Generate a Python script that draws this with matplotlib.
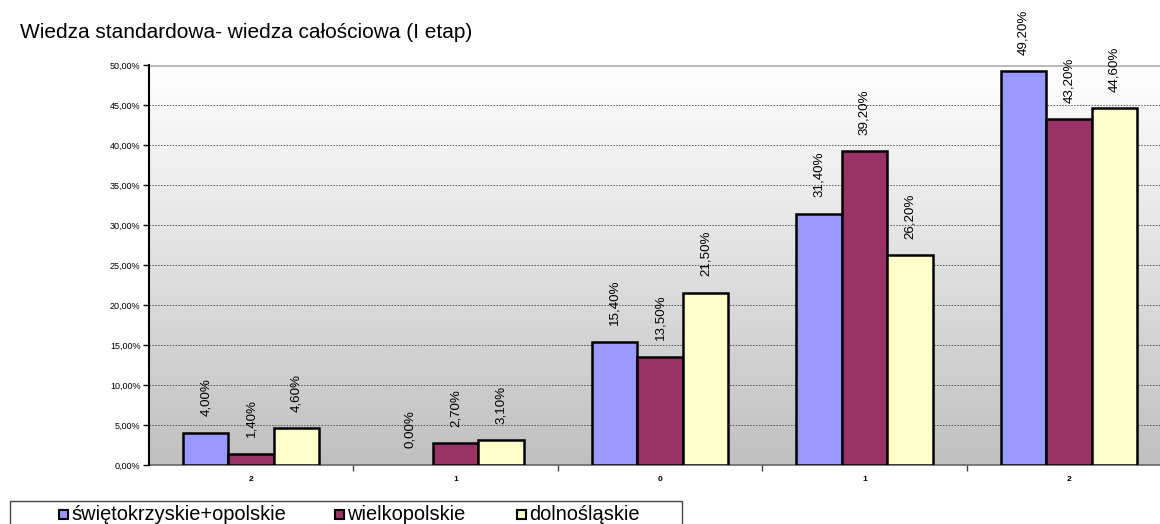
import numpy as np
import matplotlib
matplotlib.use("Agg")
import matplotlib.pyplot as plt
from matplotlib.patches import Rectangle
from matplotlib.ticker import FixedLocator, FuncFormatter
from matplotlib.colors import LinearSegmentedColormap

plt.rcParams['font.family'] = ['Liberation Sans', 'DejaVu Sans']

title = "Wiedza standardowa- wiedza całościowa (I etap)"
categories = ["2", "1", "0", "1", "2"]
series_names = ["świętokrzyskie+opolskie", "wielkopolskie", "dolnośląskie"]
swietokrzyskie_opolskie = [4.0, 0.0, 15.4, 31.4, 49.2]
wielkopolskie = [1.4, 2.7, 13.5, 39.2, 43.2]
dolnoslaskie = [4.6, 3.1, 21.5, 26.2, 44.6]
series_values = [swietokrzyskie_opolskie, wielkopolskie, dolnoslaskie]
colors = ["#9999FF", "#993366", "#FFFFCC"]

W, H = 1160, 524
fig = plt.figure(figsize=(W / 100, H / 100), dpi=100)

# plot area in pixel terms (runs past the right edge of the figure)
left_px, right_px, top_px, bottom_px = 149, 1171, 65, 465
ax = fig.add_axes([left_px / W, 1 - bottom_px / H,
                   (right_px - left_px) / W, (bottom_px - top_px) / H])

n = len(categories)
x = np.arange(n)
bw = 1 / 4.5

ax.set_xlim(-0.5, n - 0.5)
ax.set_ylim(0, 50)

# vertical gradient background: light at top, grey at bottom
grad = np.linspace(0, 1, 256).reshape(-1, 1)
cmap = LinearSegmentedColormap.from_list("bg", ["#FFFFFF", "#C0C0C0"])
ax.imshow(grad, extent=[0, 1, 0, 1], origin="upper", transform=ax.transAxes,
          cmap=cmap, aspect="auto", zorder=0, interpolation="bilinear")

# horizontal dotted gridlines
for v in np.arange(5, 50, 5):
    ax.axhline(v, color="#555555", lw=0.7, ls=(0, (1.5, 1.5)), zorder=1)
ax.axhline(50, color="#BBBBBB", lw=2.2, zorder=1)

for i, (vals, col) in enumerate(zip(series_values, colors)):
    pos = x + (i - 1) * bw
    bars = ax.bar(pos, vals, width=bw, color=col, edgecolor="black", lw=1.8, zorder=3)
    for b, v in zip(bars, vals):
        if v == 0:
            b.set_linewidth(0)
    for p, v in zip(pos, vals):
        ax.annotate(f"{v:.2f}%".replace(".", ","), (p, v), xytext=(0, 12),
                    textcoords="offset points", rotation=90, ha="center",
                    va="bottom", fontsize=9.6, zorder=4)

# axes styling
for s in ["top", "right"]:
    ax.spines[s].set_visible(False)
ax.spines["left"].set_color("black")
ax.spines["left"].set_linewidth(1.5)
ax.spines["bottom"].set_color("#666666")
ax.spines["bottom"].set_linewidth(1.2)
ax.spines["left"].set_zorder(5)

ax.yaxis.set_major_locator(FixedLocator(np.arange(0, 50.1, 5)))
ax.yaxis.set_major_formatter(FuncFormatter(lambda v, _: f"{v:.2f}%".replace(".", ",")))
ax.tick_params(axis="y", length=4, width=1, labelsize=6.5, pad=2, colors="black")

ax.set_xticks(x)
ax.set_xticklabels(categories, fontsize=6, fontweight="bold")
ax.set_xticks(np.arange(0.5, n - 0.5, 1), minor=True)
ax.tick_params(axis="x", which="major", length=0, pad=8)
ax.tick_params(axis="x", which="minor", length=4, width=1, color="#444444")

fig.text(20 / W, 1 - 33 / H, title, fontsize=15, ha="left", va="center")

# legend box along the bottom edge
fig.patches.append(Rectangle((10 / W, 1 - 540 / H), 672 / W, 39 / H,
                             transform=fig.transFigure, fill=False,
                             edgecolor="#444444", lw=1))
legend_x = [59, 335, 517]
for lx, name, col in zip(legend_x, series_names, colors):
    fig.patches.append(Rectangle((lx / W, 1 - 519 / H), 9 / W, 9 / H,
                                 transform=fig.transFigure, facecolor=col,
                                 edgecolor="black", lw=1.5))
    fig.text((lx + 12) / W, 1 - 515 / H, name, fontsize=14.4,
             ha="left", va="center")

fig.savefig("out.png", dpi=100)
